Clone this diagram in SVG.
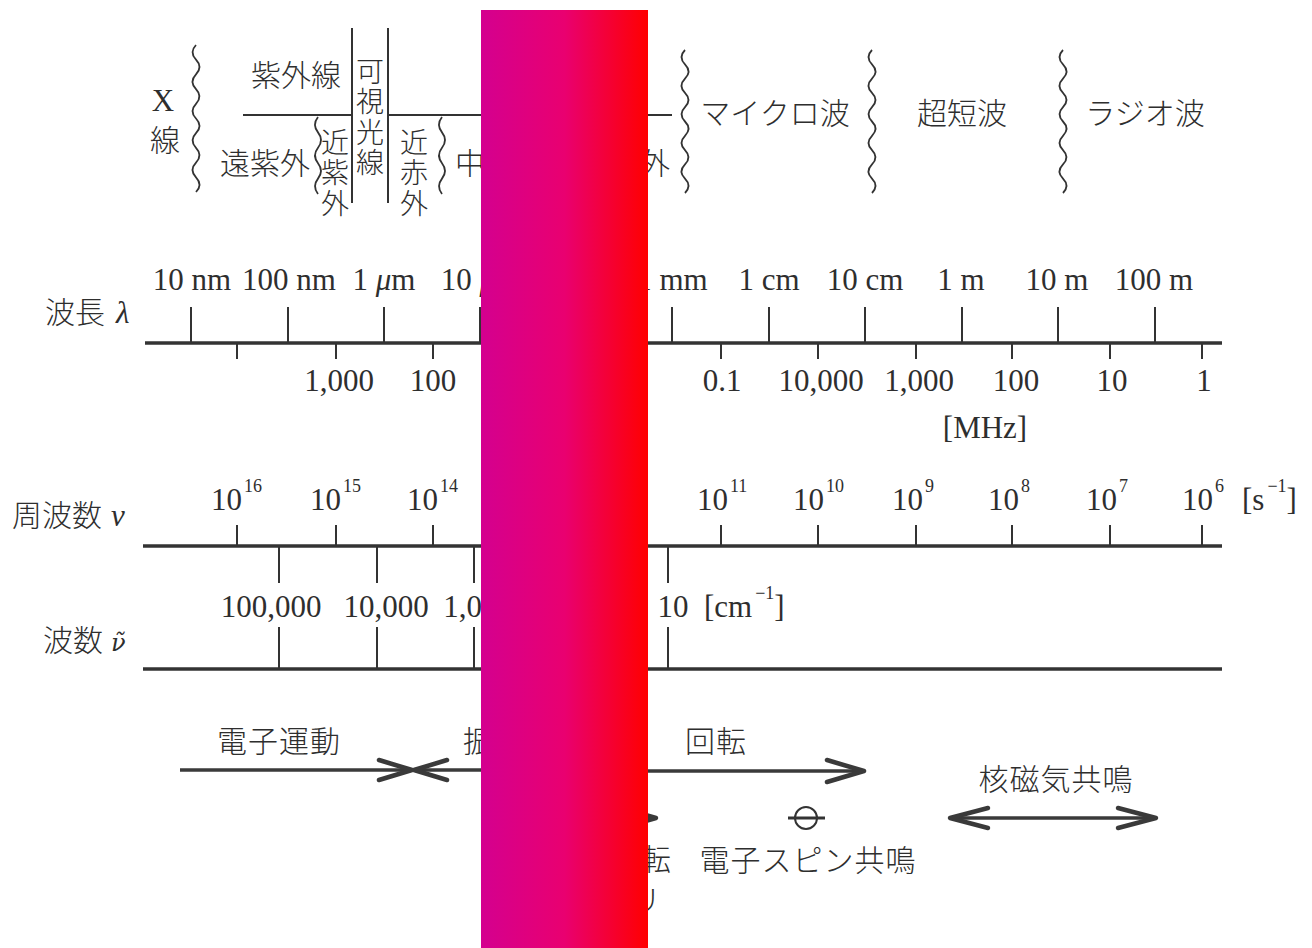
<svg xmlns="http://www.w3.org/2000/svg" width="1312" height="948" viewBox="0 0 1312 948">
<defs>
<linearGradient id="bar" x1="0" y1="0" x2="1" y2="0">
<stop offset="0" stop-color="#D4008F"/>
<stop offset="0.5" stop-color="#E90070"/>
<stop offset="1" stop-color="#FF0000"/>
</linearGradient>
<style>
.cjk{font-family:"Noto Sans CJK JP","Noto Sans CJK SC",sans-serif;font-size:30px;font-weight:300;fill:#2e2e2e}
.vert{writing-mode:vertical-rl;font-size:28px;letter-spacing:2.5px}
.num{font-family:"Liberation Serif","Noto Sans CJK JP",serif;font-size:31px;fill:#2e2e2e}
.it{font-style:italic}
.sup{font-size:18px}
.axis{stroke:#333;stroke-width:3.5;fill:none}
.tick{stroke:#333;stroke-width:2;fill:none}
.wave{stroke:#333;stroke-width:1.8;fill:none}
.rule{stroke:#333;stroke-width:2;fill:none}
.shaft{stroke:#3a3a3a;stroke-width:3.5;fill:none}
.head{stroke:#3a3a3a;stroke-width:4.5;fill:none;stroke-linejoin:round;stroke-linecap:round}
</style>
</defs>
<rect width="1312" height="948" fill="#ffffff"/>

<g id="bands">
<path class="wave" d="M196,45 q-7,7.35 0,14.7 q7,7.35 0,14.7 q-7,7.35 0,14.7 q7,7.35 0,14.7 q-7,7.35 0,14.7 q7,7.35 0,14.7 q-7,7.35 0,14.7 q7,7.35 0,14.7 q-7,7.35 0,14.7 q7,7.35 0,14.7"/>
<path class="wave" d="M318,117 q-6,7.7 0,15.4 q6,7.7 0,15.4 q-6,7.7 0,15.4 q6,7.7 0,15.4 q-6,7.7 0,15.4"/>
<path class="wave" d="M442,117 q-6,7.7 0,15.4 q6,7.7 0,15.4 q-6,7.7 0,15.4 q6,7.7 0,15.4 q-6,7.7 0,15.4"/>
<path class="wave" d="M685,50 q-7,7.15 0,14.3 q7,7.15 0,14.3 q-7,7.15 0,14.3 q7,7.15 0,14.3 q-7,7.15 0,14.3 q7,7.15 0,14.3 q-7,7.15 0,14.3 q7,7.15 0,14.3 q-7,7.15 0,14.3 q7,7.15 0,14.3"/>
<path class="wave" d="M872,50 q-7,7.15 0,14.3 q7,7.15 0,14.3 q-7,7.15 0,14.3 q7,7.15 0,14.3 q-7,7.15 0,14.3 q7,7.15 0,14.3 q-7,7.15 0,14.3 q7,7.15 0,14.3 q-7,7.15 0,14.3 q7,7.15 0,14.3"/>
<path class="wave" d="M1063,50 q-7,7.15 0,14.3 q7,7.15 0,14.3 q-7,7.15 0,14.3 q7,7.15 0,14.3 q-7,7.15 0,14.3 q7,7.15 0,14.3 q-7,7.15 0,14.3 q7,7.15 0,14.3 q-7,7.15 0,14.3 q7,7.15 0,14.3"/>
<path class="rule" d="M243,115 H352 M388,115 H672 M352,28 V203 M388,28 V203"/>
<text class="num" x="163" y="111" text-anchor="middle" font-size="29">X</text>
<text class="cjk" x="165" y="151" text-anchor="middle">線</text>
<text class="cjk" x="296" y="86" text-anchor="middle">紫外線</text>
<text class="cjk vert" x="370" y="57">可視光線</text>
<text class="cjk" x="265" y="174" text-anchor="middle">遠紫外</text>
<text class="cjk vert" x="335" y="128">近紫外</text>
<text class="cjk vert" x="414" y="128">近赤外</text>
<text class="cjk" x="470" y="174" text-anchor="middle">中</text>
<text class="cjk" x="655" y="174" text-anchor="middle">外</text>
<text class="cjk" x="775" y="124" text-anchor="middle">マイクロ波</text>
<text class="cjk" x="962" y="124" text-anchor="middle">超短波</text>
<text class="cjk" x="1145" y="124" text-anchor="middle">ラジオ波</text>
</g>

<g id="wavelength-axis">
<text class="cjk" x="45" y="323">波長</text>
<text class="num it" x="116" y="323" font-size="28">λ</text>
<path class="axis" d="M145,343 H1222"/>
<path class="tick" d="M191,307 V343 M288,307 V343 M384,307 V343 M480,307 V343 M672,307 V343 M769,307 V343 M865,307 V343 M962,307 V343 M1058,307 V343 M1155,307 V343"/>
<path class="tick" d="M237,343 V359 M336,343 V359 M433,343 V359 M721,343 V359 M818,343 V359 M916,343 V359 M1012,343 V359 M1110,343 V359 M1202,343 V359"/>
<g class="num" text-anchor="middle">
<text x="192" y="290">10 nm</text>
<text x="289" y="290">100 nm</text>
<text x="384" y="290">1 <tspan class="it">μ</tspan>m</text>
<text x="480" y="290">10 <tspan class="it">μ</tspan>m</text>
<text x="672" y="290">1 mm</text>
<text x="769" y="290">1 cm</text>
<text x="865" y="290">10 cm</text>
<text x="961" y="290">1 m</text>
<text x="1057" y="290">10 m</text>
<text x="1154" y="290">100 m</text>
<text x="339" y="391">1,000</text>
<text x="433" y="391">100</text>
<text x="722" y="391">0.1</text>
<text x="821" y="391">10,000</text>
<text x="919" y="391">1,000</text>
<text x="1016" y="391">100</text>
<text x="1112" y="391">10</text>
<text x="1204" y="391">1</text>
<text x="985" y="438">[MHz]</text>
</g>
</g>

<g id="frequency-axis">
<text class="cjk" x="12" y="526">周波数</text>
<text class="num it" x="111" y="526" font-size="28">ν</text>
<path class="axis" d="M143,546 H1222"/>
<path class="tick" d="M237,525 V546 M336,525 V546 M433,525 V546 M721,525 V546 M818,525 V546 M916,525 V546 M1012,525 V546 M1110,525 V546 M1202,525 V546"/>
<path class="tick" d="M279,546 V583 M377,546 V583 M474,546 V583 M668,546 V583"/>
<g class="num">
<text x="211" y="510">10<tspan class="sup" dx="2" dy="-18">16</tspan></text>
<text x="310" y="510">10<tspan class="sup" dx="2" dy="-18">15</tspan></text>
<text x="407" y="510">10<tspan class="sup" dx="2" dy="-18">14</tspan></text>
<text x="597" y="510">10<tspan class="sup" dx="2" dy="-18">12</tspan></text>
<text x="697" y="510">10<tspan class="sup" dx="2" dy="-18">11</tspan></text>
<text x="793" y="510">10<tspan class="sup" dx="2" dy="-18">10</tspan></text>
<text x="892" y="510">10<tspan class="sup" dx="2" dy="-18">9</tspan></text>
<text x="988" y="510">10<tspan class="sup" dx="2" dy="-18">8</tspan></text>
<text x="1086" y="510">10<tspan class="sup" dx="2" dy="-18">7</tspan></text>
<text x="1182" y="510">10<tspan class="sup" dx="2" dy="-18">6</tspan></text>
<text x="1242" y="510">[s<tspan class="sup" dx="3" dy="-18">−1</tspan><tspan dy="18">]</tspan></text>
</g>
</g>

<g id="wavenumber-axis">
<text class="cjk" x="43" y="651">波数</text>
<text x="111" y="651" font-family="'DejaVu Serif', serif" font-style="italic" font-size="24" fill="#2e2e2e">ν̃</text>
<path class="axis" d="M143,669 H1222"/>
<path class="tick" d="M279,627 V669 M377,627 V669 M474,627 V669 M668,627 V669"/>
<g class="num">
<text x="271" y="617" text-anchor="middle">100,000</text>
<text x="386" y="617" text-anchor="middle">10,000</text>
<text x="478" y="617" text-anchor="middle">1,000</text>
<text x="673" y="617" text-anchor="middle">10</text>
<text x="704" y="617">[cm<tspan class="sup" dx="3" dy="-18">−1</tspan><tspan dy="18">]</tspan></text>
</g>
</g>

<g id="phenomena">
<text class="cjk" x="279" y="752" text-anchor="middle" letter-spacing="1">電子運動</text>
<text class="cjk" x="463" y="752" letter-spacing="1">振動</text>
<text class="cjk" x="716" y="752" text-anchor="middle" letter-spacing="1">回転</text>
<text class="cjk" x="1056" y="790" text-anchor="middle" letter-spacing="1">核磁気共鳴</text>
<text class="cjk" x="641" y="870">転</text>
<text class="cjk" x="631" y="911">リ</text>
<text class="cjk" x="808" y="871" text-anchor="middle" letter-spacing="1">電子スピン共鳴</text>
<circle cx="806" cy="818" r="11" fill="none" stroke="#333" stroke-width="2"/>
<path d="M788,818 H825" stroke="#333" stroke-width="3"/>
</g>

<g id="connectors">
<path class="shaft" d="M180,770 H411"/>
<path class="head" d="M379,760 L412,770 L379,780"/>
<path class="shaft" d="M415,770 H600"/>
<path class="head" d="M447,760 L414,770 L447,780"/>
<path class="shaft" d="M560,771 H862"/>
<path class="head" d="M827,760 L864,771 L827,782"/>
<path class="shaft" d="M560,818 H654"/>
<path class="head" d="M621,808 L656,818 L621,828"/>
<path class="shaft" d="M952,818 H1154"/>
<path class="head" d="M988,808 L950,818 L988,828"/>
<path class="head" d="M1118,808 L1156,818 L1118,828"/>
</g>

<rect id="overlay" x="481" y="10" width="167" height="938" fill="url(#bar)"/>
</svg>
